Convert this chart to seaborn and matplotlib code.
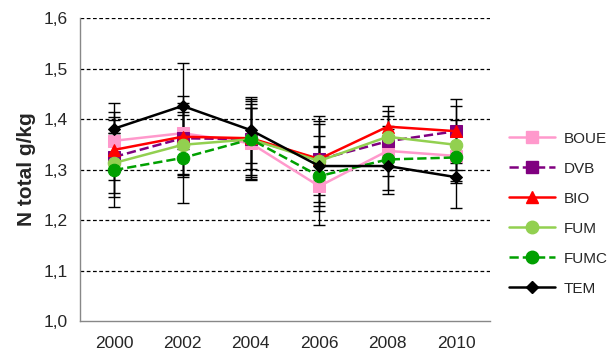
import numpy as np
import pandas as pd
import seaborn as sns
import matplotlib
matplotlib.use("Agg")
import matplotlib.pyplot as plt
from matplotlib.lines import Line2D
from matplotlib.ticker import FuncFormatter

years = ["2000", "2002", "2004", "2006", "2008", "2010"]
series = ["BOUE", "DVB", "BIO", "FUM", "FUMC", "TEM"]

boue = [1.357, 1.372, 1.352, 1.267, 1.337, 1.327]
dvb = [1.325, 1.362, 1.360, 1.320, 1.356, 1.376]
bio = [1.339, 1.365, 1.362, 1.321, 1.385, 1.376]
fum = [1.313, 1.349, 1.360, 1.317, 1.365, 1.349]
fumc = [1.299, 1.323, 1.360, 1.287, 1.320, 1.324]
tem = [1.381, 1.426, 1.378, 1.307, 1.307, 1.285]

boue_err = [0.057, 0.050, 0.070, 0.077, 0.050, 0.050]
dvb_err = [0.080, 0.070, 0.075, 0.070, 0.050, 0.063]
bio_err = [0.060, 0.080, 0.060, 0.085, 0.040, 0.050]
fum_err = [0.060, 0.060, 0.070, 0.050, 0.050, 0.050]
fumc_err = [0.073, 0.090, 0.080, 0.060, 0.060, 0.050]
tem_err = [0.050, 0.085, 0.065, 0.090, 0.055, 0.062]

values = [boue, dvb, bio, fum, fumc, tem]
errors = [boue_err, dvb_err, bio_err, fum_err, fumc_err, tem_err]

colors = ["#FF99CC", "#800080", "#FF0000", "#92D050", "#00A000", "#000000"]
markers = ["s", "s", "^", "o", "o", "D"]
msizes = [9, 8, 8, 9, 9, 6]
lstyles = ["-", "--", "-", "-", "--", "-"]

sns.set_style("white")
plt.rcParams['font.family'] = ['Liberation Sans', 'DejaVu Sans']

fig = plt.figure(figsize=(6.15, 3.54), dpi=100)
ax = fig.add_axes([0.130, 0.093, 0.667, 0.856])

pos = np.arange(len(years))
for v, e in zip(values, errors):
    ax.errorbar(pos, v, yerr=e, fmt="none", ecolor="black", elinewidth=1.0,
                capsize=4, capthick=1.0, zorder=2)

handles = []
for name, v, c, m, ms, ls in zip(series, values, colors, markers, msizes, lstyles):
    df = pd.DataFrame({"x": pos, "y": v})
    sns.lineplot(data=df, x="x", y="y", ax=ax, color=c, marker=m, markersize=ms,
                 markeredgecolor=c, linestyle=ls, linewidth=1.8, zorder=3,
                 legend=False)
    handles.append(Line2D([0], [0], color=c, marker=m, markersize=ms,
                          markeredgecolor=c, linestyle=ls, linewidth=1.8, label=name))

ax.set_xlim(-0.5, len(years) - 0.5)
ax.set_ylim(1.0, 1.6)
ax.set_yticks(np.arange(1.0, 1.61, 0.1))
ax.yaxis.set_major_formatter(FuncFormatter(lambda y, p: f"{y:.1f}".replace(".", ",")))
ax.set_xticks(pos)
ax.set_xticklabels(years)
ax.set_xticks(np.arange(-0.5, len(years), 1.0), minor=True)
ax.tick_params(axis="x", which="major", length=0, labelsize=12.5, pad=11)
ax.tick_params(axis="x", which="minor", length=5, color="#888888", width=1, direction="out")
ax.tick_params(axis="y", length=0, labelsize=12.5, pad=9)

for yv in np.arange(1.1, 1.61, 0.1):
    ax.axhline(yv, color="black", linestyle=(0, (3, 2)), linewidth=0.9, zorder=1)

for s in ["top", "right"]:
    ax.spines[s].set_visible(False)
for s in ["left", "bottom"]:
    ax.spines[s].set_color("#888888")
    ax.spines[s].set_linewidth(1.0)

ax.set_xlabel("")
ax.set_ylabel("N total g/kg", fontsize=15, fontweight="bold", labelpad=5)

leg = fig.legend(handles=handles, loc="upper left", bbox_to_anchor=(0.805, 0.667),
                 frameon=False, fontsize=11, handlelength=3, labelspacing=1.05,
                 handletextpad=0.6)

fig.savefig("out.png", dpi=100)
